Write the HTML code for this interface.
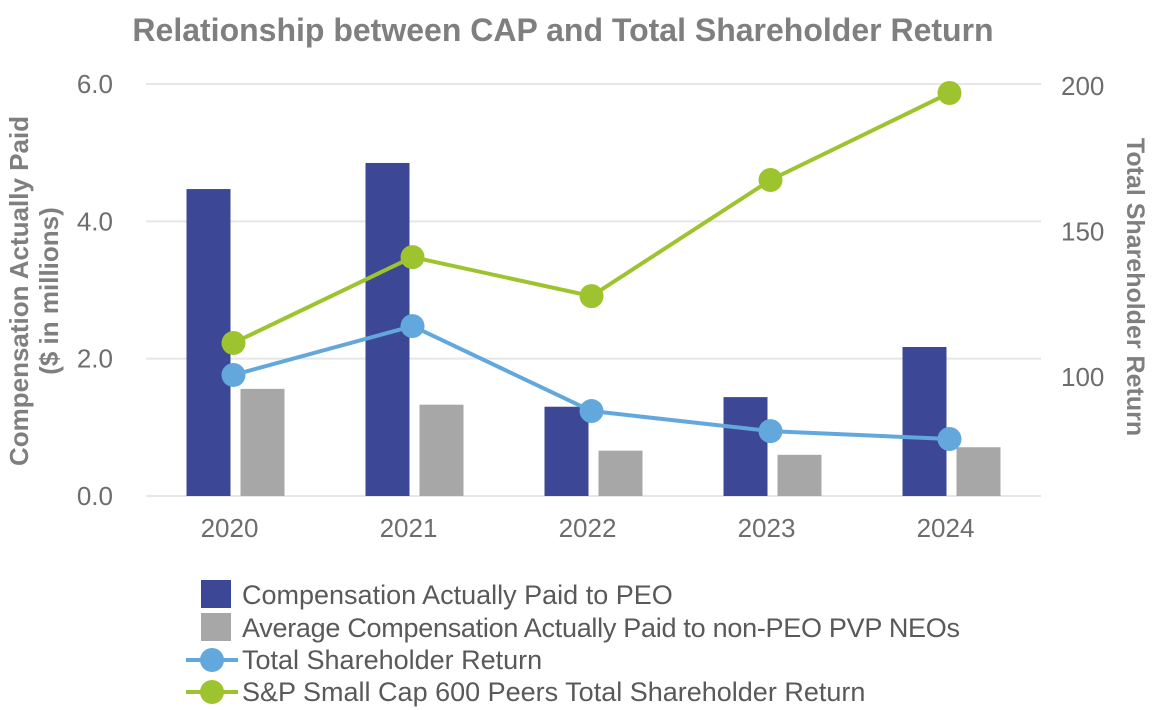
<!DOCTYPE html>
<html><head><meta charset="utf-8"><style>
body{margin:0;background:#fff;}
svg{display:block;font-family:"Liberation Sans",Arial,sans-serif;}
</style></head><body>
<svg width="1160" height="710" viewBox="0 0 1160 710">
<text x="563" y="41" text-anchor="middle" font-size="32" font-weight="bold" fill="#7f7f7f">Relationship between CAP and Total Shareholder Return</text>
<g id="grid"></g><g id="bars"></g><g id="lines"></g><g id="axes"></g>
<text transform="translate(28,291) rotate(-90)" text-anchor="middle" font-size="26" font-weight="bold" fill="#7f7f7f"><tspan x="0" dy="0">Compensation Actually Paid</tspan><tspan x="0" dy="30">($ in millions)</tspan></text>
<text transform="translate(1127,287) rotate(90)" text-anchor="middle" font-size="25" font-weight="bold" fill="#7f7f7f">Total Shareholder Return</text>
<g font-size="27" fill="#595959">
<rect x="201" y="580" width="30" height="28" fill="#3c4796"/>
<text x="242" y="604">Compensation Actually Paid to PEO</text>
<rect x="201" y="613" width="30" height="28" fill="#a6a7a6"/>
<text x="242" y="637" textLength="718">Average Compensation Actually Paid to non-PEO PVP NEOs</text>
<line x1="186" y1="660" x2="238" y2="660" stroke="#63a8dc" stroke-width="4"/>
<circle cx="212" cy="660" r="12" fill="#63a8dc"/>
<text x="242" y="669">Total Shareholder Return</text>
<line x1="186" y1="692" x2="238" y2="692" stroke="#9dc42e" stroke-width="4"/>
<circle cx="212" cy="692" r="12" fill="#9dc42e"/>
<text x="242" y="701">S&amp;P Small Cap 600 Peers Total Shareholder Return</text>
</g>
</svg>
<script>
const categories=["2020","2021","2022","2023","2024"];
const peoCap=[4.47,4.85,1.30,1.44,2.17];
const neoCap=[1.56,1.33,0.66,0.60,0.71];
const tsr=[100.7,117.5,88.3,81.4,78.7];
const peerTsr=[111.7,141.2,127.8,167.7,197.6];
const leftTicks=["0.0","2.0","4.0","6.0"];
const rightTicks=["100","150","200"];
const NS="http://www.w3.org/2000/svg";
const X0=146,X1=1041,YB=496,YT=84;
const yL=v=>YB-(v/6)*(YB-YT);
const yR=v=>86+(200-v)*2.91;
const bw=(X1-X0)/categories.length;
const xc=i=>X0+bw*(i+0.5);
function mk(tag,attrs,parent){const e=document.createElementNS(NS,tag);for(const k in attrs)e.setAttribute(k,attrs[k]);document.getElementById(parent).appendChild(e);return e;}
leftTicks.forEach(t=>{const v=parseFloat(t);const y=yL(v);
const g=mk('line',{x1:X0,x2:X1,y1:y,y2:y,stroke:'#e6e6e6','stroke-width':2},'grid');


const l=mk('text',{x:113,y:y+9,'text-anchor':'end','font-size':26,fill:'#6d6d6d'},'axes');l.textContent=t;

});
rightTicks.forEach(t=>{const y=yR(parseFloat(t));
const l=mk('text',{x:1061,y:y+9,'font-size':26,fill:'#6d6d6d'},'axes');l.textContent=t;

});
categories.forEach((c,i)=>{
const l=mk('text',{x:xc(i)-6,y:537,'text-anchor':'middle','font-size':26,fill:'#6d6d6d'},'axes');l.textContent=c;


const b1=mk('rect',{x:xc(i)-49,y:yL(peoCap[i]),width:44,height:YB-yL(peoCap[i]),fill:'#3c4796'},'bars');


const b2=mk('rect',{x:xc(i)+5,y:yL(neoCap[i]),width:44,height:YB-yL(neoCap[i]),fill:'#a6a7a6'},'bars');

});
function series(vals,color,name){
const pts=vals.map((v,i)=>(xc(i)-2)+','+yR(v)).join(' ');
const pl=mk('polyline',{points:pts,fill:'none',stroke:color,'stroke-width':4},'lines');


vals.forEach((v,i)=>{const c=mk('circle',{cx:xc(i)-2,cy:yR(v),r:12,fill:color},'lines');

});}
series(tsr,'#63a8dc','tsr');
series(peerTsr,'#9dc42e','peer-tsr');
</script>
</body></html>
